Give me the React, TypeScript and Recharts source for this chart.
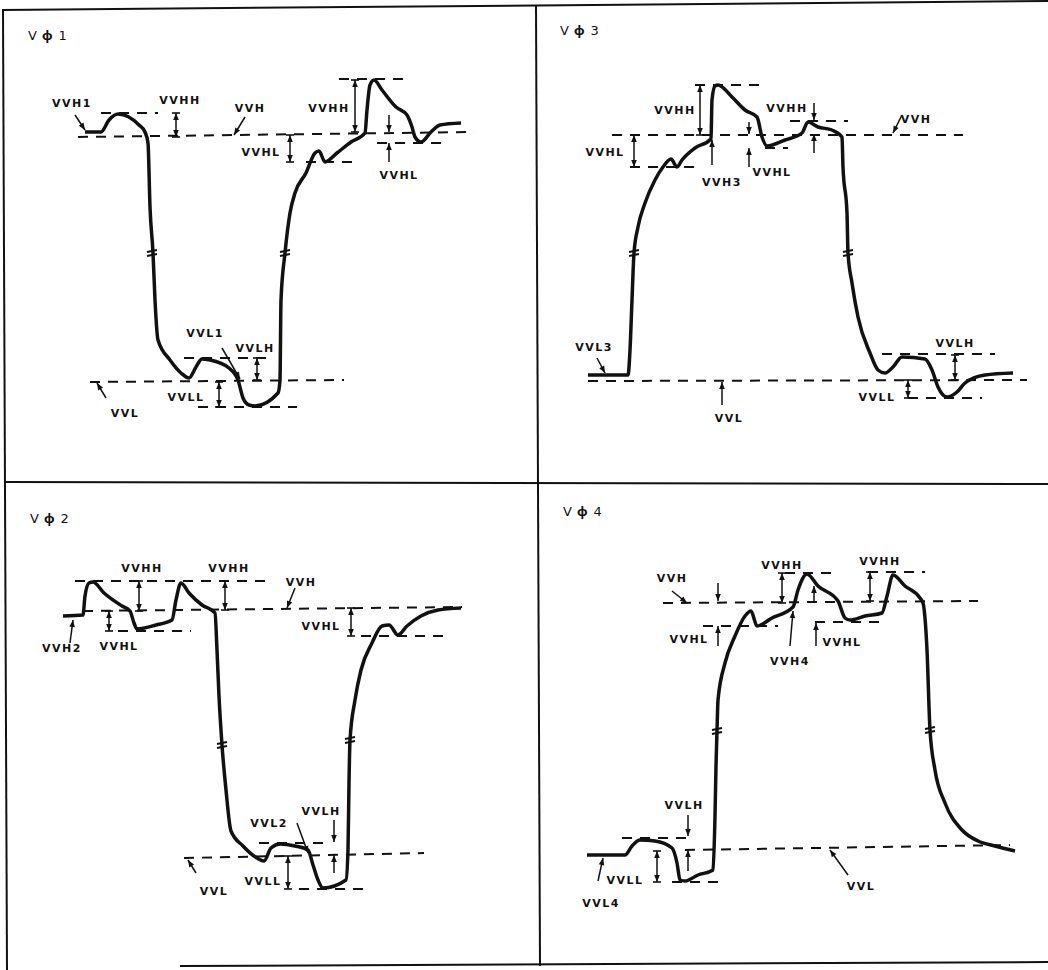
import React from 'react'
import { ComposedChart, Line, Scatter, XAxis, YAxis, ReferenceLine } from 'recharts'

// every panel uses t (time, left to right) and v (voltage, bottom to top)
type P2 = [number, number]
type Seg = [number, number, number, number] // t1, v1, t2, v2
type Dim = [number, number, number] // t, upper v, lower v  (double arrow)
type Arr = [number, number, number] // t, from v, tip v
type Lbl = [number, number, string]

// ---------- V phi 1 ----------
const wave1: P2[] = [
    [85, 351], [101, 351], [109, 363], [118, 369], [139, 358], [145, 351], [148, 340], [150, 276],
    [153, 230], [155, 183], [158, 143], [170, 123], [181, 110], [189, 105], [196, 116], [202, 124],
    [210, 123], [229, 115], [238, 103], [243, 85], [249, 78], [255, 77], [278, 90], [280, 103],
    [281, 183], [285, 230], [290, 270], [295, 290], [306, 310], [315, 330], [319, 332], [325, 321],
    [337, 330], [351, 341], [365, 350], [367, 373], [370, 398], [374, 403], [382, 393], [396, 376],
    [407, 368], [412, 356], [415, 346], [421, 341], [431, 351], [440, 358], [461, 360],
]
const dash1: Seg[] = [
    [101, 370, 158, 370], [78, 346, 474, 351], [306, 321, 358, 321], [339, 404, 410, 404],
    [377, 340, 443, 340], [184, 125, 273, 125], [90, 101, 344, 103], [198, 76, 297, 76],
]
const dims1: Dim[] = [[176, 370, 346], [290, 348, 321], [355, 403, 351], [257, 125, 103], [219, 101, 76]]
const arrows1: Arr[] = [[389, 368, 351], [389, 321, 340]]
const leaders1: Seg[] = [[75, 368, 85, 353], [245, 366, 234, 348], [222, 135, 240, 104], [106, 85, 97, 100]]
const labels1: Lbl[] = [
    [72, 380, 'VVH1'], [180, 383, 'VVHH'], [250, 375, 'VVH'], [261, 331, 'VVHL'], [329, 375, 'VVHH'],
    [399, 308, 'VVHL'], [205, 150, 'VVL1'], [255, 135, 'VVLH'], [186, 86, 'VVLL'], [125, 70, 'VVL'],
]
const breaks1: P2[] = [[152, 230], [285, 230]]

// ---------- V phi 3 ----------
const wave3: P2[] = [
    [48, 108], [88, 108], [90, 133], [92, 183], [94, 230], [98, 256], [105, 280], [115, 303],
    [123, 316], [131, 324], [137, 316], [142, 323], [155, 335], [171, 344], [172, 383], [175, 397],
    [178, 398], [192, 386], [205, 373], [217, 366], [222, 346], [227, 337], [245, 343], [262, 350],
    [268, 361], [278, 356], [292, 353], [302, 346], [303, 316], [307, 270], [308, 230], [312, 200],
    [318, 166], [330, 130], [338, 113], [345, 110], [353, 116], [362, 126], [385, 124], [392, 113],
    [398, 96], [407, 86], [417, 91], [425, 100], [445, 108], [473, 110],
]
const dash3: Seg[] = [
    [155, 398, 222, 398], [72, 348, 423, 348], [90, 316, 158, 316], [225, 335, 248, 335],
    [250, 362, 308, 362], [342, 129, 455, 129], [48, 102, 487, 103], [368, 85, 442, 85],
]
const dims3: Dim[] = [[94, 348, 316], [160, 398, 348], [415, 128, 103], [368, 103, 85]]
const arrows3: Arr[] = [[172, 318, 343], [209, 361, 349], [209, 316, 335], [274, 380, 363], [274, 330, 349], [182, 78, 101]]
const leaders3: Seg[] = [[362, 368, 353, 350], [57, 125, 65, 110]]
const labels3: Lbl[] = [
    [135, 373, 'VVHH'], [65, 331, 'VVHL'], [182, 301, 'VVH3'], [232, 311, 'VVHL'], [247, 375, 'VVHH'],
    [376, 364, 'VVH'], [54, 136, 'VVL3'], [415, 140, 'VVLH'], [337, 86, 'VVLL'], [189, 65, 'VVL'],
]
const breaks3: P2[] = [[94, 230], [308, 230]]

// ---------- V phi 2 ----------
const wave2: P2[] = [
    [63, 354], [83, 355], [85, 374], [89, 387], [93, 388], [104, 377], [122, 364], [130, 359],
    [134, 347], [137, 341], [156, 345], [172, 350], [176, 370], [181, 387], [189, 377], [202, 365],
    [215, 357], [217, 320], [219, 274], [222, 225], [226, 180], [231, 139], [243, 124], [257, 112],
    [264, 109], [271, 122], [280, 126], [295, 124], [308, 120], [313, 105], [318, 90], [323, 82],
    [346, 90], [348, 120], [349, 187], [350, 230], [355, 270], [361, 300], [372, 327], [382, 344],
    [389, 345], [398, 335], [407, 344], [421, 354], [438, 360], [461, 362],
]
const dash2: Seg[] = [
    [75, 389, 268, 389], [83, 359, 462, 363], [118, 339, 191, 339], [361, 334, 447, 334],
    [259, 127, 328, 127], [184, 112, 424, 117], [299, 81, 368, 81],
]
const dims2: Dim[] = [[139, 389, 359], [225, 389, 360], [109, 359, 339], [351, 362, 334], [288, 114, 81]]
const arrows2: Arr[] = [[334, 150, 128], [334, 97, 115]]
const leaders2: Seg[] = [[295, 382, 287, 362], [70, 327, 73, 350], [297, 147, 308, 117], [196, 97, 188, 110]]
const labels2: Lbl[] = [
    [142, 402, 'VVHH'], [229, 402, 'VVHH'], [301, 388, 'VVH'], [62, 322, 'VVH2'], [119, 324, 'VVHL'],
    [321, 344, 'VVHL'], [269, 147, 'VVL2'], [321, 159, 'VVLH'], [263, 89, 'VVLL'], [214, 79, 'VVL'],
]
const breaks2: P2[] = [[222, 225], [350, 230]]

// ---------- V phi 4 ----------
const wave4: P2[] = [
    [47, 115], [85, 115], [92, 124], [100, 130], [115, 129], [132, 122], [137, 107], [140, 90],
    [145, 89], [158, 95], [173, 100], [175, 154], [176, 204], [177, 239], [178, 270], [185, 307],
    [195, 334], [205, 354], [211, 359], [217, 344], [232, 352], [253, 363], [258, 380], [267, 396],
    [278, 384], [298, 369], [305, 352], [310, 350], [325, 354], [342, 357], [347, 374], [353, 395],
    [365, 384], [380, 372], [383, 367], [387, 320], [390, 240], [395, 200], [405, 167], [422, 140],
    [438, 129], [455, 124], [475, 119],
]
const dash4: Seg[] = [
    [245, 397, 298, 397], [328, 398, 385, 398], [123, 367, 438, 369], [163, 344, 238, 344],
    [275, 348, 342, 348], [82, 132, 152, 132], [145, 120, 470, 125], [132, 88, 185, 88],
]
const dims4: Dim[] = [[242, 397, 367], [330, 398, 369], [117, 119, 88]]
const arrows4: Arr[] = [[178, 387, 369], [178, 324, 344], [274, 367, 384], [276, 324, 347], [148, 155, 134], [148, 99, 120]]
const leaders4: Seg[] = [[132, 379, 147, 367], [250, 324, 253, 359], [58, 89, 63, 112], [308, 95, 290, 120]]
const labels4: Lbl[] = [
    [132, 392, 'VVH'], [242, 405, 'VVHH'], [340, 409, 'VVHH'], [149, 331, 'VVHL'], [302, 328, 'VVHL'],
    [250, 309, 'VVH4'], [144, 165, 'VVLH'], [85, 90, 'VVLL'], [61, 67, 'VVL4'], [321, 84, 'VVL'],
]
const breaks4: P2[] = [[177, 239], [390, 240]]

const INK = '#111'

const LabelShape = (p: any) => {
    const d = p.payload ?? p
    if (d.title) {
        const [a, phi, n] = String(d.text).split(' ')
        return (
            <text x={p.cx} y={p.cy} dominantBaseline="central" fontFamily="DejaVu Sans, sans-serif"
                fontSize={13} fill={INK}>
                <tspan>{a}</tspan>
                <tspan dx={5} fontWeight="bold" fontFamily="Noto Sans, DejaVu Sans, sans-serif">{phi}</tspan>
                <tspan dx={6}>{n}</tspan>
            </text>
        )
    }
    return (
        <text x={p.cx} y={p.cy} textAnchor="middle" dominantBaseline="central" fontFamily="DejaVu Sans, sans-serif"
            fontWeight="bold" fontSize={11} letterSpacing={1.5} fill={INK}>{d.text}</text>
    )
}

const HeadShape = (p: any) => {
    const d = p.payload ?? p
    return (
        <g transform={`translate(${p.cx},${p.cy}) rotate(${d.ang})`}>
            <polygon points="0,0 -7,-2.8 -7,2.8" fill={INK} />
            {d.cap && <line x1={0} y1={-4} x2={0} y2={4} stroke={INK} strokeWidth={1.6} />}
        </g>
    )
}

const BreakShape = (p: any) => (
    <g stroke={INK} strokeWidth={2}>
        <line x1={p.cx - 5} y1={p.cy - 1} x2={p.cx + 5} y2={p.cy - 3} />
        <line x1={p.cx - 5} y1={p.cy + 3} x2={p.cx + 5} y2={p.cy + 1} />
    </g>
)

interface PanelProps {
    x: number
    y: number
    w: number
    h: number
    title: Lbl
    wave: P2[]
    dashes: Seg[]
    dims: Dim[]
    arrows: Arr[]
    leaders: Seg[]
    labels: Lbl[]
    breaks: P2[]
}

function Panel({ x, y, w, h, title, wave, dashes, dims, arrows, leaders, labels, breaks }: PanelProps) {
    const waveData = wave.map(([t, v]) => ({ t, v }))
    const shafts: Seg[] = [
        ...dims.map(([t, a, b]) => [t, a, t, b] as Seg),
        ...arrows.map(([t, a, b]) => [t, a, t, b] as Seg),
        ...leaders,
    ]
    const heads = [
        ...dims.flatMap(([t, a, b]) => [{ t, v: a, ang: -90, cap: true }, { t, v: b, ang: 90, cap: true }]),
        ...arrows.map(([t, from, tip]) => ({ t, v: tip, ang: tip > from ? -90 : 90, cap: false })),
        ...leaders.map(([t1, v1, t2, v2]) => ({ t: t2, v: v2, ang: (Math.atan2(v1 - v2, t2 - t1) * 180) / Math.PI, cap: false })),
    ]
    const textData = [
        { t: title[0], v: title[1], text: title[2], title: true },
        ...labels.map(([t, v, text]) => ({ t, v, text, title: false })),
    ]
    const breakData = breaks.map(([t, v]) => ({ t, v }))

    return (
        <div style={{ position: 'absolute', left: x, top: y, width: w, height: h }}>
            <ComposedChart width={w} height={h} margin={{ top: 0, right: 0, bottom: 0, left: 0 }}>
                <XAxis type="number" dataKey="t" domain={[0, w]} hide allowDataOverflow />
                <YAxis type="number" dataKey="v" domain={[0, h]} hide allowDataOverflow />
                {dashes.map((s, i) => (
                    <ReferenceLine key={'d' + i} segment={[{ x: s[0], y: s[1] }, { x: s[2], y: s[3] }]}
                        stroke={INK} strokeWidth={2} strokeDasharray="10 8" />
                ))}
                {shafts.map((s, i) => (
                    <ReferenceLine key={'s' + i} segment={[{ x: s[0], y: s[1] }, { x: s[2], y: s[3] }]}
                        stroke={INK} strokeWidth={1.5} />
                ))}
                <Line data={waveData} dataKey="v" type="monotone" stroke={INK} strokeWidth={3.5}
                    dot={false} isAnimationActive={false} />
                <Scatter data={breakData} shape={BreakShape} isAnimationActive={false} />
                <Scatter data={heads} shape={HeadShape} isAnimationActive={false} />
                <Scatter data={textData} shape={LabelShape} isAnimationActive={false} />
            </ComposedChart>
        </div>
    )
}

export default function App() {
    return (
        <div style={{ position: 'absolute', left: 0, top: 0, width: 1048, height: 970, background: '#fff', overflow: 'hidden' }}>
            <Panel x={0} y={0} w={540} h={483} title={[28, 448, 'V φ 1']} wave={wave1} dashes={dash1}
                dims={dims1} arrows={arrows1} leaders={leaders1} labels={labels1} breaks={breaks1} />
            <Panel x={540} y={0} w={508} h={483} title={[20, 453, 'V φ 3']} wave={wave3} dashes={dash3}
                dims={dims3} arrows={arrows3} leaders={leaders3} labels={labels3} breaks={breaks3} />
            <Panel x={0} y={483} w={540} h={487} title={[30, 452, 'V φ 2']} wave={wave2} dashes={dash2}
                dims={dims2} arrows={arrows2} leaders={leaders2} labels={labels2} breaks={breaks2} />
            <Panel x={540} y={483} w={508} h={487} title={[23, 459, 'V φ 4']} wave={wave4} dashes={dash4}
                dims={dims4} arrows={arrows4} leaders={leaders4} labels={labels4} breaks={breaks4} />
            {/* drawing frame */}
            <svg width={1048} height={970} style={{ position: 'absolute', left: 0, top: 0, pointerEvents: 'none' }}>
                <g stroke={INK} strokeWidth={2}>
                    <line x1={2} y1={10} x2={1048} y2={1} />
                    <line x1={3} y1={10} x2={7} y2={970} />
                    <line x1={536} y1={6} x2={540} y2={966} />
                    <line x1={4} y1={482} x2={1048} y2={484} />
                    <line x1={180} y1={966} x2={1048} y2={962} />
                </g>
            </svg>
        </div>
    )
}
